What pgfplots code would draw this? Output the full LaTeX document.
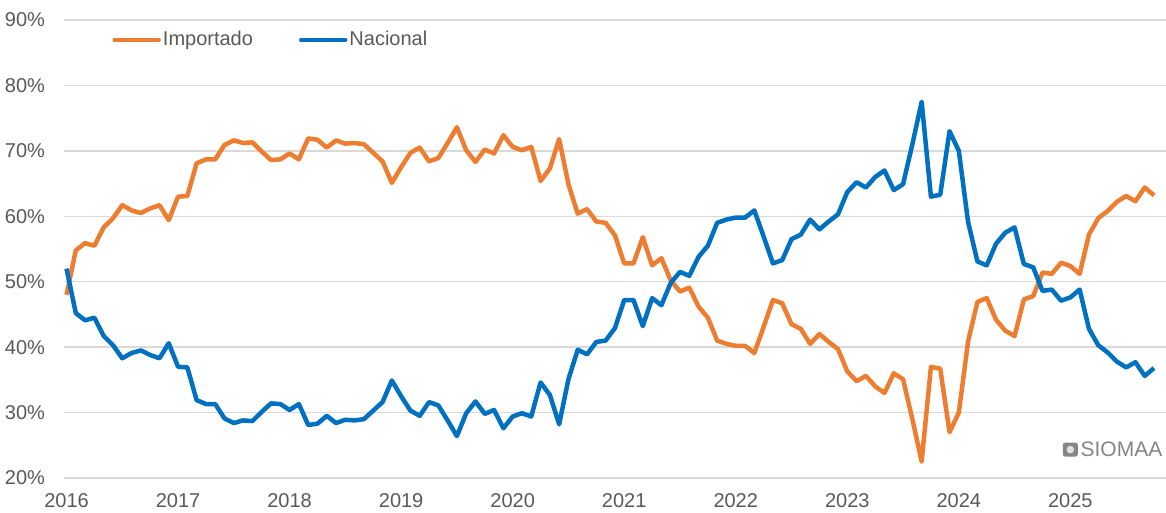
\documentclass[border=0pt]{standalone}
\usepackage{pgfplots}
\pgfplotsset{compat=1.18}
\usepackage{pgfplotstable}
\usepackage{fontspec}
\setmainfont{Liberation Sans}
\definecolor{imp}{HTML}{ED7D31}
\definecolor{nac}{HTML}{0070C0}
\definecolor{txt}{HTML}{595959}
\definecolor{grd}{HTML}{D9D9D9}
\definecolor{wm}{HTML}{858585}
\pgfplotstableread{
m imp nac
0 48.0 52.0
1 54.8 45.2
2 55.9 44.1
3 55.5 44.5
4 58.3 41.7
5 59.7 40.3
6 61.7 38.3
7 60.9 39.1
8 60.5 39.5
9 61.2 38.8
10 61.7 38.3
11 59.4 40.6
12 63.0 37.0
13 63.1 36.9
14 68.1 31.9
15 68.7 31.3
16 68.7 31.3
17 70.9 29.1
18 71.6 28.4
19 71.2 28.8
20 71.3 28.7
21 69.9 30.1
22 68.6 31.4
23 68.7 31.3
24 69.6 30.4
25 68.7 31.3
26 71.9 28.1
27 71.7 28.3
28 70.5 29.5
29 71.6 28.4
30 71.1 28.9
31 71.2 28.8
32 71.0 29.0
33 69.7 30.3
34 68.4 31.6
35 65.1 34.9
36 67.5 32.5
37 69.7 30.3
38 70.5 29.5
39 68.4 31.6
40 68.9 31.1
41 71.2 28.8
42 73.6 26.4
43 70.1 29.9
44 68.3 31.7
45 70.2 29.8
46 69.6 30.4
47 72.4 27.6
48 70.6 29.4
49 70.1 29.9
50 70.6 29.4
51 65.4 34.6
52 67.3 32.7
53 71.8 28.2
54 64.9 35.1
55 60.4 39.6
56 61.1 38.9
57 59.2 40.8
58 59.0 41.0
59 57.1 42.9
60 52.8 47.2
61 52.8 47.2
62 56.8 43.2
63 52.5 47.5
64 53.6 46.4
65 50.2 49.8
66 48.5 51.5
67 49.1 50.9
68 46.2 53.8
69 44.5 55.5
70 41.0 59.0
71 40.5 59.5
72 40.2 59.8
73 40.2 59.8
74 39.1 60.9
75 43.1 56.9
76 47.2 52.8
77 46.7 53.3
78 43.5 56.5
79 42.8 57.2
80 40.5 59.5
81 42.0 58.0
82 40.8 59.2
83 39.7 60.3
84 36.3 63.7
85 34.8 65.2
86 35.6 64.4
87 34.0 66.0
88 33.0 67.0
89 36.0 64.0
90 35.1 64.9
91 29.0 71.0
92 22.5 77.5
93 37.0 63.0
94 36.7 63.3
95 27.0 73.0
96 30.0 70.0
97 40.9 59.1
98 46.9 53.1
99 47.5 52.5
100 44.2 55.8
101 42.5 57.5
102 41.7 58.3
103 47.3 52.7
104 47.8 52.2
105 51.4 48.6
106 51.2 48.8
107 52.9 47.1
108 52.4 47.6
109 51.2 48.8
110 57.2 42.8
111 59.7 40.3
112 60.8 39.2
113 62.2 37.8
114 63.1 36.9
115 62.3 37.7
116 64.4 35.6
117 63.2 36.8
}\datatable
\begin{document}
\begin{tikzpicture}
\useasboundingbox (-32pt,-17.5pt) rectangle (551pt,239pt);
\begin{axis}[
  scale only axis,
  width=551pt, height=229pt,
  xmin=-0.27, xmax=118.29,
  ymin=20, ymax=90,
  clip=false,
  axis line style={draw=none},
  tick style={draw=none},
  major tick length=0pt,
  xtick={0,12,...,108},
  xticklabels={2016,2017,2018,2019,2020,2021,2022,2023,2024,2025},
  ytick={20,30,...,90},
  yticklabels={20\%,30\%,40\%,50\%,60\%,70\%,80\%,90\%},
  ymajorgrids,
  grid style={grd, line width=0.75pt},
  font=\fontsize{10pt}{12pt}\selectfont,
  tick label style={text=txt},
  xticklabel style={yshift=-4pt},
  yticklabel style={xshift=-6pt},
  legend style={draw=none, fill=none, inner sep=0pt,
    at={(rel axis cs:0.0436,0.9563)}, anchor=west,
    font=\fontsize{10pt}{12pt}\selectfont, text=txt,
    nodes={inner xsep=1pt, inner ysep=0pt},
    /tikz/every even column/.append style={column sep=22pt}},
  legend columns=2,
  legend image code/.code={\draw[#1, line width=2.25pt, line cap=round] (0pt,0pt) -- (22pt,0pt);},
]
\addplot[imp, line width=2.25pt, line join=round] table[x=m, y=imp] {\datatable};
\addlegendentry{Importado}
\addplot[nac, line width=2.25pt, line join=round] table[x=m, y=nac] {\datatable};
\addlegendentry{Nacional}
\node[anchor=east, inner sep=0pt, text=wm, font=\fontsize{10.5pt}{12pt}\selectfont] (wm) at (rel axis cs:0.997,0.062) {SIOMAA};
\node[anchor=east, fill=wm, rounded corners=1.2pt, minimum width=7.5pt, minimum height=7pt, inner sep=0pt] (logo) at ([xshift=-1pt]wm.west) {};
\node[circle, fill=white!75!wm, minimum size=3.8pt, inner sep=0pt] at (logo.center) {};
\end{axis}
\end{tikzpicture}
\end{document}
